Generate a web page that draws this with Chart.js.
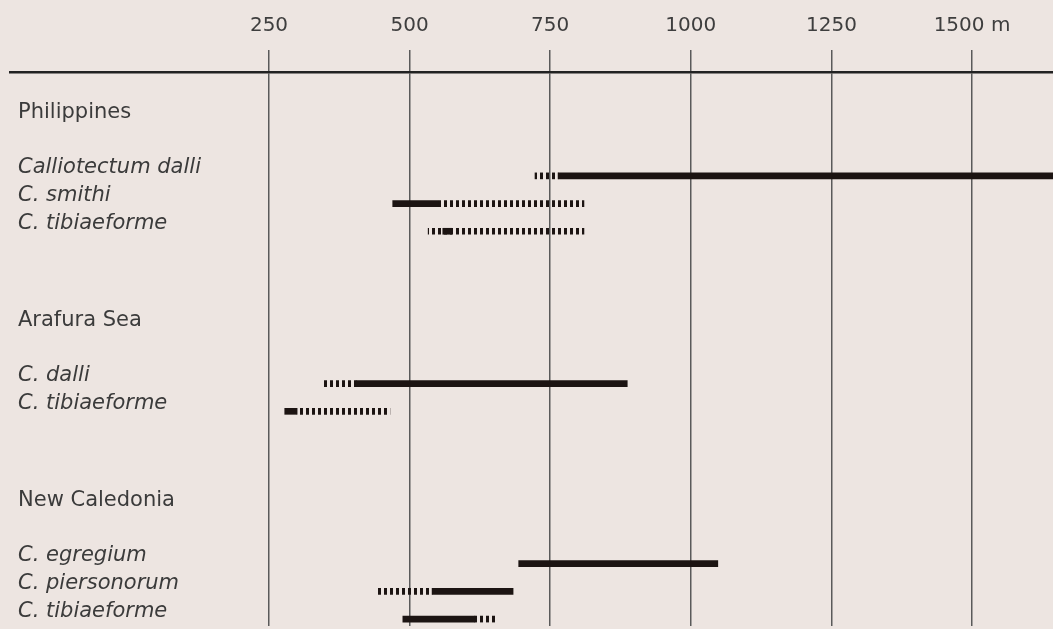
<!DOCTYPE html>
<html>
<head>
<meta charset="utf-8">
<script src="https://cdn.jsdelivr.net/npm/chart.js@4"></script>
<style>
  html, body { margin: 0; padding: 0; background: #ede5e1; }
  #wrap { width: 1053px; height: 629px; }
</style>
</head>
<body>
<div id="wrap"><canvas id="c" width="1053" height="629"></canvas></div>
<script>
// ---- data ----
const regionNames = ['Philippines', 'Arafura Sea', 'New Caledonia'];
const rowLabels = ['Philippines', 'Calliotectum dalli', 'C. smithi', 'C. tibiaeforme',
                   'Arafura Sea', 'C. dalli', 'C. tibiaeforme',
                   'New Caledonia', 'C. egregium', 'C. piersonorum', 'C. tibiaeforme'];
const solidFrom  = [null, 764, 470, 559, null, 405, 278, null, 694, 540, 488];
const solidTo    = [null, 1700, 550, 575, null, 887, 300, null, 1048, 684, 616];
const dottedFrom = [null, 723, 550, 533, null, 348, 300, null, null, 442, 616];
const dottedTo   = [null, 764, 810, 810, null, 405, 465, null, null, 540, 654];
const depthTicks = [250, 500, 750, 1000, 1250, 1500];

// ---- layout (slot positions of rows on the category axis) ----
const ROW_SLOTS = [3, 7, 9, 11, 18, 22, 24, 31, 35, 37, 39];
const SLOT_COUNT = 40;
const labels = new Array(SLOT_COUNT).fill('');
const solidData = new Array(SLOT_COUNT).fill(null);
const dottedData = new Array(SLOT_COUNT).fill(null);
rowLabels.forEach((lab, i) => {
  const s = ROW_SLOTS[i];
  labels[s] = lab;
  if (solidFrom[i] !== null) solidData[s] = [solidFrom[i], solidTo[i]];
  if (dottedFrom[i] !== null) dottedData[s] = [dottedFrom[i], dottedTo[i]];
});

const INK = '#1c1412';
function dotPattern() {
  const c = document.createElement('canvas');
  c.width = 6; c.height = 8;
  const g = c.getContext('2d');
  g.fillStyle = INK;
  g.fillRect(0, 0, 3, 8);
  return g.createPattern(c, 'repeat');
}

const FONT = 'DejaVu Sans';
new Chart(document.getElementById('c'), {
  type: 'bar',
  data: {
    labels: labels,
    datasets: [
      { data: solidData, backgroundColor: INK, barThickness: 6, grouped: false },
      { data: dottedData, backgroundColor: dotPattern(), barThickness: 6, grouped: false }
    ]
  },
  options: {
    indexAxis: 'y',
    responsive: false,
    animation: false,
    devicePixelRatio: 1,
    layout: { padding: { left: 0, right: 0, top: 0, bottom: 3 } },
    plugins: { legend: { display: false }, tooltip: { enabled: false } },
    scales: {
      x: {
        type: 'linear',
        position: 'top',
        min: -210.5,
        max: 1644,
        afterBuildTicks: (s) => { s.ticks = depthTicks.map(v => ({ value: v })); },
        afterFit: (s) => { s.height = 72; s.paddingLeft = 0; s.paddingRight = 0; },
        ticks: {
          autoSkip: false,
          maxRotation: 0,
          padding: 12,
          color: '#3e3e3e',
          font: { family: FONT, size: 20 },
          callback: (v) => v === 1500 ? '1500 m' : String(v)
        },
        grid: { display: true, drawOnChartArea: true, drawTicks: true, tickLength: 22, color: '#5a5a5a', lineWidth: 1.5 },
        border: { display: true, color: '#222', width: 2.5 }
      },
      y: {
        type: 'category',
        offset: true,
        afterFit: (s) => { s.width = 10; s.paddingTop = 0; s.paddingBottom = 0; },
        grid: { display: false },
        border: { display: false },
        ticks: {
          autoSkip: false,
          mirror: true,
          padding: 8,
          labelOffset: -8,
          color: '#3b3b3b',
          font: (ctx) => {
            const lab = ctx.tick ? ctx.tick.label : '';
            return { family: FONT, size: 21, style: regionNames.includes(lab) ? 'normal' : 'italic' };
          }
        }
      }
    }
  }
});
</script>
</body>
</html>
